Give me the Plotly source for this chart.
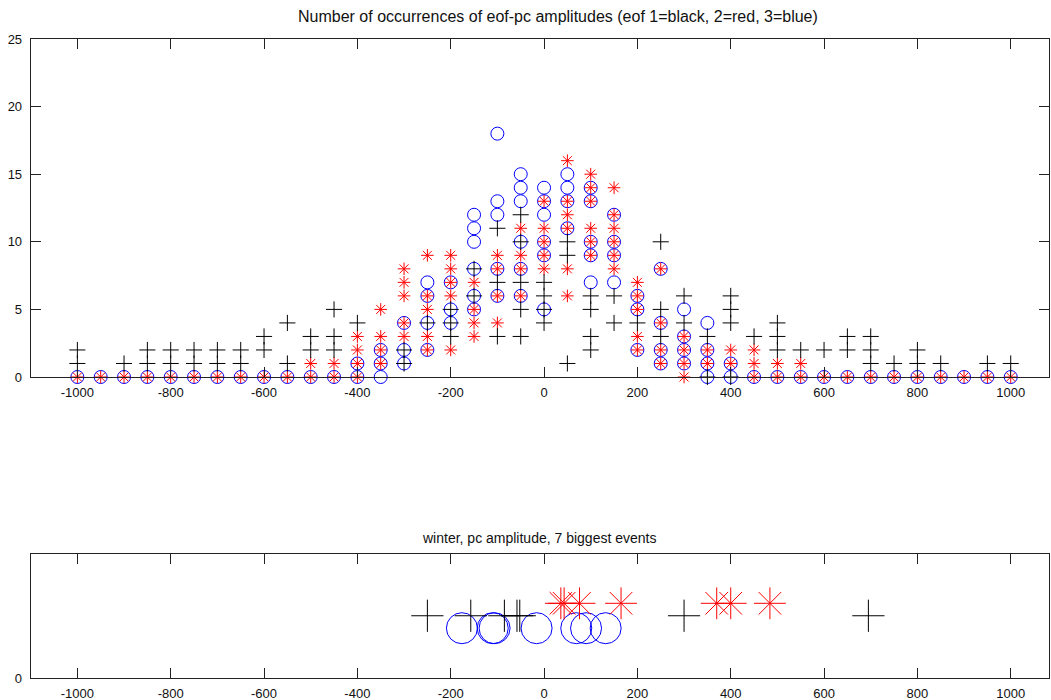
import plotly.graph_objects as go

# amplitude bins (x) of the top panel
bins = [-1000, -950, -900, -850, -800, -750, -700, -650, -600, -550, -500,
        -450, -400, -350, -300, -250, -200, -150, -100, -50, 0,
        50, 100, 150, 200, 250, 300, 350, 400, 450, 500,
        550, 600, 650, 700, 750, 800, 850, 900, 950, 1000]

# occurrence counts per bin, eof 1 (black)
eof1_counts = [[1, 2], [], [1], [1, 2], [1, 2], [1, 2], [1, 2], [1, 2], [2, 3], [1, 4], [2, 3],
               [2, 3, 5], [4], [], [1, 2], [4], [3, 4, 5], [6, 8], [3, 7, 11], [3, 5, 7, 10, 12], [4, 5, 6, 7],
               [1, 9, 10], [2, 3, 5, 6], [4, 6], [4], [3, 5, 10], [4, 6], [0, 3], [0, 4, 5, 6], [3], [2, 3, 4],
               [2], [2], [2, 3], [1, 2, 3], [1], [1, 2], [1], [], [1], [1]]

# occurrence counts per bin, eof 2 (red)
eof2_counts = [[0], [0], [0], [0], [0], [0], [0], [0], [0], [0], [0, 1],
               [0, 1], [0, 1, 2, 3], [1, 2, 3, 5], [3, 4, 6, 7, 8], [2, 3, 5, 6, 9], [2, 6, 7, 8, 9],
               [3, 4, 5, 7], [4, 6, 8, 9], [6, 8, 9, 11], [8, 9, 10, 11, 13],
               [6, 8, 11, 12, 13, 16], [9, 10, 11, 13, 14, 15], [8, 9, 10, 11, 12, 14], [2, 3, 5, 6, 7],
               [1, 2, 4, 8], [0, 1, 2, 3], [1, 2], [1, 2], [0, 1, 2], [0, 1],
               [0, 1], [0], [0], [0], [0], [0], [0], [0], [0], [0]]

# occurrence counts per bin, eof 3 (blue)
eof3_counts = [[0], [0], [0], [0], [0], [0], [0], [0], [0], [0], [0],
               [0], [0, 1], [0, 1, 2], [1, 2, 4], [2, 4, 6, 7], [4, 5, 7], [5, 6, 8, 10, 11, 12],
               [6, 8, 12, 13, 18], [6, 8, 10, 13, 14, 15], [5, 9, 10, 12, 13, 14],
               [11, 13, 14, 15], [7, 9, 10, 13, 14], [7, 9, 10, 12], [2, 5, 6],
               [1, 2, 4, 8], [1, 2, 3, 5], [0, 1, 2, 4], [0, 1], [0], [0],
               [0], [0], [0], [0], [0], [0], [0], [0], [0], [0]]

# bottom panel: pc amplitudes of the 7 biggest winter events
eof1_events = [-250, -157, -85, -58, -52, 300, 695]
eof2_events = [36, 43, 76, 165, 370, 400, 484]
eof3_events = [-176, -110, -106, -16, 69, 90, 132]
eof1_level, eof2_level, eof3_level = 0.5, 0.6, 0.4

x_ticks = [-1000, -800, -600, -400, -200, 0, 200, 400, 600, 800, 1000]
x_ticklabels = ["-1000", "-800", "-600", "-400", "-200", "0", "200", "400", "600", "800", "1000"]
y_ticks = [0, 5, 10, 15, 20, 25]
y_ticklabels = ["0", "5", "10", "15", "20", "25"]


def flatten(counts):
    xs, ys = [], []
    for b, vals in zip(bins, counts):
        for v in vals:
            xs.append(b)
            ys.append(v)
    return xs, ys


FONT = "Liberation Sans, Arial, sans-serif"
fig = go.Figure()

styles = [
    (eof3_counts, "circle-open", 13, "#0000ff"),
    (eof2_counts, "asterisk-open", 10.5, "#ff0000"),
    (eof1_counts, "cross-thin-open", 11.5, "#000000"),
]
for counts, sym, size, col in styles:
    xs, ys = flatten(counts)
    fig.add_trace(go.Scatter(x=xs, y=ys, mode="markers", cliponaxis=False,
                             marker=dict(symbol=sym, size=size, color=col,
                                         line=dict(width=1, color=col)),
                             xaxis="x", yaxis="y", showlegend=False))

bstyles = [
    (eof3_events, eof3_level, "circle-open", 31, "#0000ff"),
    (eof2_events, eof2_level, "asterisk-open", 26.5, "#ff0000"),
    (eof1_events, eof1_level, "cross-thin-open", 23, "#000000"),
]
for ev, lvl, sym, size, col in bstyles:
    fig.add_trace(go.Scatter(x=ev, y=[lvl] * len(ev), mode="markers", cliponaxis=False,
                             marker=dict(symbol=sym, size=size, color=col,
                                         line=dict(width=1, color=col)),
                             xaxis="x2", yaxis="y2", showlegend=False))

W, H = 1051, 700
xdom = [30.7 / W, 1049 / W]
axis_common = dict(showline=True, linecolor="#222", linewidth=1, mirror="allticks",
                   ticks="inside", ticklen=10, tickcolor="#222", showgrid=False,
                   zeroline=False, tickfont=dict(family=FONT, size=13, color="#111"))

fig.update_layout(
    width=W, height=H, margin=dict(l=0, r=0, t=0, b=0, autoexpand=False),
    paper_bgcolor="white", plot_bgcolor="white",
    xaxis=dict(domain=xdom, range=[-1100, 1082], tickvals=x_ticks, ticktext=x_ticklabels,
               ticklabelstandoff=3, anchor="y", **axis_common),
    yaxis=dict(domain=[(H - 377) / H, (H - 39) / H], range=[0, 25], tickvals=y_ticks,
               ticktext=y_ticklabels, ticklabelstandoff=5, anchor="x", **axis_common),
    xaxis2=dict(domain=xdom, range=[-1100, 1082], tickvals=x_ticks, ticktext=x_ticklabels,
                ticklabelstandoff=3, anchor="y2", **axis_common),
    yaxis2=dict(domain=[(H - 678) / H, (H - 553.5) / H], range=[0, 1], tickvals=[0],
                ticktext=["0"], ticklabelstandoff=5, anchor="x2", **axis_common),
    annotations=[
        dict(text="Number of occurrences of eof-pc amplitudes (eof 1=black, 2=red, 3=blue)",
             x=558 / W, y=1 - 16 / H, xref="paper", yref="paper", xanchor="center",
             yanchor="middle", showarrow=False, font=dict(family=FONT, size=16, color="#111")),
        dict(text="winter, pc amplitude, 7 biggest events",
             x=539 / W, y=1 - 538 / H, xref="paper", yref="paper", xanchor="center",
             yanchor="middle", showarrow=False, font=dict(family=FONT, size=14, color="#111")),
    ],
)

fig.write_html("out.html")
